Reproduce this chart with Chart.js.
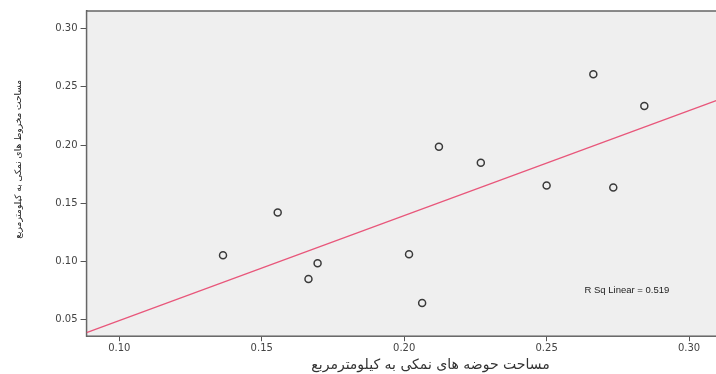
<!DOCTYPE html>
<html>
<head>
<meta charset="utf-8">
<script src="https://cdn.jsdelivr.net/npm/chart.js@4/dist/chart.umd.min.js"></script>
<style>
    html, body { margin: 0; padding: 0; background: #ffffff; overflow: hidden; }
    #wrap { position: relative; width: 780px; height: 374px; }
</style>
</head>
<body>
<div id="wrap"><canvas id="scatter"></canvas></div>
<script>
// Basin area (x) vs salt cone area (y), km²
const basinArea = [0.1364, 0.1556, 0.1664, 0.1696, 0.2017, 0.2063, 0.2122, 0.2269, 0.2500, 0.2664, 0.2734, 0.2843];
const coneArea  = [0.1055, 0.1421, 0.0850, 0.0986, 0.1063, 0.0645, 0.1985, 0.1848, 0.1652, 0.2608, 0.1635, 0.2335];

const xTicks = [0.10, 0.15, 0.20, 0.25, 0.30];
const yTicks = [0.05, 0.10, 0.15, 0.20, 0.25, 0.30];

const xTitle = 'مساحت حوضه های نمکی به کیلومترمربع';
// leading spaces nudge the rotated title up a bit, like the original
const yTitle = '\u00a0'.repeat(10) + 'مساحت مخروط های نمکی به کیلومترمربع';
const rSqLabel = 'R Sq Linear = 0.519';

const X_MIN = 0.0885, X_MAX = 0.33;
const Y_MIN = 0.036, Y_MAX = 0.315;

// Least-squares fit line, drawn across the full x range.
function linearFit(xs, ys) {
    const n = xs.length;
    const mx = xs.reduce((a, b) => a + b, 0) / n;
    const my = ys.reduce((a, b) => a + b, 0) / n;
    let sxy = 0, sxx = 0;
    xs.forEach((x, i) => { sxy += (x - mx) * (ys[i] - my); sxx += (x - mx) * (x - mx); });
    const slope = sxy / sxx;
    return { slope, intercept: my - slope * mx };
}
const fit = linearFit(basinArea, coneArea);
const fitLine = [X_MIN, X_MAX].map(x => ({ x, y: fit.intercept + fit.slope * x }));

// Plot frame + grey panel, and the R² note.
const framePlugin = {
    id: 'frame',
    beforeDatasetsDraw(chart) {
        const { ctx, chartArea: a } = chart;
        ctx.save();
        ctx.fillStyle = '#efefef';
        ctx.fillRect(a.left, a.top, a.right - a.left, a.bottom - a.top);
        ctx.strokeStyle = '#666';
        ctx.lineWidth = 1.5;
        ctx.strokeRect(a.left, a.top, a.right - a.left, a.bottom - a.top);
        ctx.restore();
    },
    afterDatasetsDraw(chart) {
        const { ctx, scales } = chart;
        ctx.save();
        ctx.font = '9.5px "Liberation Sans", Arial, sans-serif';
        ctx.fillStyle = '#222';
        ctx.textAlign = 'left';
        ctx.textBaseline = 'middle';
        ctx.fillText(rSqLabel, scales.x.getPixelForValue(0.2633), scales.y.getPixelForValue(0.0756));
        ctx.restore();
    },
};

const tickFont = { family: '"DejaVu Sans", sans-serif', size: 10 };

new Chart(document.getElementById('scatter'), {
    type: 'scatter',
    data: {
        datasets: [
            {
                label: 'points',
                data: basinArea.map((x, i) => ({ x, y: coneArea[i] })),
                pointStyle: 'circle',
                pointRadius: 3.5,
                pointBorderWidth: 1.5,
                borderColor: '#3a3a3a',
                backgroundColor: 'rgba(0,0,0,0)',
            },
            {
                type: 'line',
                label: 'fit',
                data: fitLine,
                borderColor: '#e8567a',
                borderWidth: 1.2,
                pointRadius: 0,
                fill: false,
            },
        ],
    },
    options: {
        responsive: true,
        maintainAspectRatio: false,
        animation: false,
        layout: { padding: { left: 8, top: 11, right: 3, bottom: 0 } },
        plugins: { legend: { display: false }, tooltip: { enabled: false } },
        scales: {
            x: {
                type: 'linear',
                min: X_MIN, max: X_MAX,
                afterBuildTicks: s => { s.ticks = xTicks.map(v => ({ value: v })); },
                ticks: { color: '#444', font: tickFont, padding: 1, maxRotation: 0,
                          callback: v => v.toFixed(2) },
                grid: { drawOnChartArea: false, drawTicks: true, tickLength: 5, color: '#555' },
                border: { display: true, color: '#555', width: 1.5 },
                title: { display: true, text: xTitle, color: '#333',
                         font: { family: '"DejaVu Sans", sans-serif', size: 14 },
                         padding: { top: 2, bottom: 0 } },
            },
            y: {
                type: 'linear',
                min: Y_MIN, max: Y_MAX,
                afterBuildTicks: s => { s.ticks = yTicks.map(v => ({ value: v })); },
                ticks: { color: '#444', font: tickFont, padding: 3,
                          callback: v => v.toFixed(2) },
                grid: { drawOnChartArea: false, drawTicks: true, tickLength: 6, color: '#555' },
                border: { display: true, color: '#555', width: 1.5 },
                title: { display: true, text: yTitle, color: '#222',
                         font: { family: '"DejaVu Sans", sans-serif', size: 9 },
                         padding: { top: 5.5, bottom: 28 } },
            },
        },
    },
    plugins: [framePlugin],
});
</script>
</body>
</html>
